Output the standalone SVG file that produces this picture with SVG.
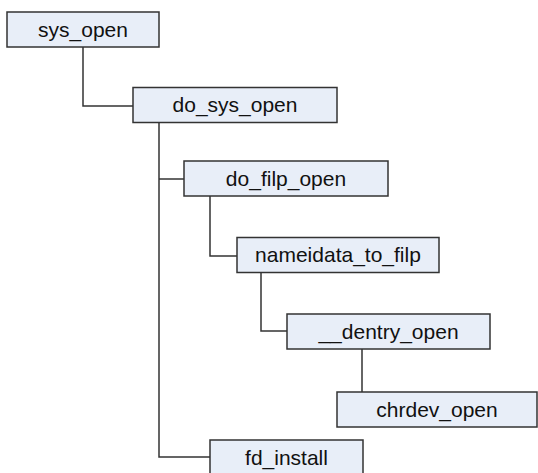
<svg xmlns="http://www.w3.org/2000/svg" width="538" height="473" viewBox="0 0 538 473">
  <style>
    .box { fill: #e8eef8; stroke: #333333; stroke-width: 1.5; }
    .lbl { font-family: "Liberation Sans", Arial, sans-serif; font-size: 21px; fill: #111111; text-anchor: middle; }
    .wire { fill: none; stroke: #333333; stroke-width: 1.5; }
  </style>
  <rect width="538" height="473" fill="#ffffff"/>

  <!-- call-tree connectors -->
  <g id="connectors">
    <polyline class="wire" points="83,47 83,106 133,106"/>
    <polyline class="wire" points="159,123 159,457 210,457"/>
    <polyline class="wire" points="159,179 184,179"/>
    <polyline class="wire" points="210,196 210,256 237,256"/>
    <polyline class="wire" points="261,272 261,331 287,331"/>
    <polyline class="wire" points="362,349 362,392"/>
  </g>

  <g id="sys_open">
    <rect class="box" x="7" y="12" width="152" height="35"/>
    <text class="lbl" x="83" y="36.5">sys_open</text>
  </g>
  <g id="do_sys_open">
    <rect class="box" x="133" y="87.5" width="204" height="35"/>
    <text class="lbl" x="235" y="112">do_sys_open</text>
  </g>
  <g id="do_filp_open">
    <rect class="box" x="184" y="161" width="204" height="35"/>
    <text class="lbl" x="286" y="185.5">do_filp_open</text>
  </g>
  <g id="nameidata_to_filp">
    <rect class="box" x="237" y="237.5" width="202" height="35"/>
    <text class="lbl" x="338" y="262">nameidata_to_filp</text>
  </g>
  <g id="dentry_open">
    <rect class="box" x="287" y="314" width="203" height="35"/>
    <text class="lbl" x="388.5" y="338.5">__dentry_open</text>
  </g>
  <g id="chrdev_open">
    <rect class="box" x="337" y="392" width="200" height="35"/>
    <text class="lbl" x="437" y="416.5">chrdev_open</text>
  </g>
  <g id="fd_install">
    <rect class="box" x="210" y="440" width="153" height="36"/>
    <text class="lbl" x="286.5" y="464.5">fd_install</text>
  </g>
</svg>
